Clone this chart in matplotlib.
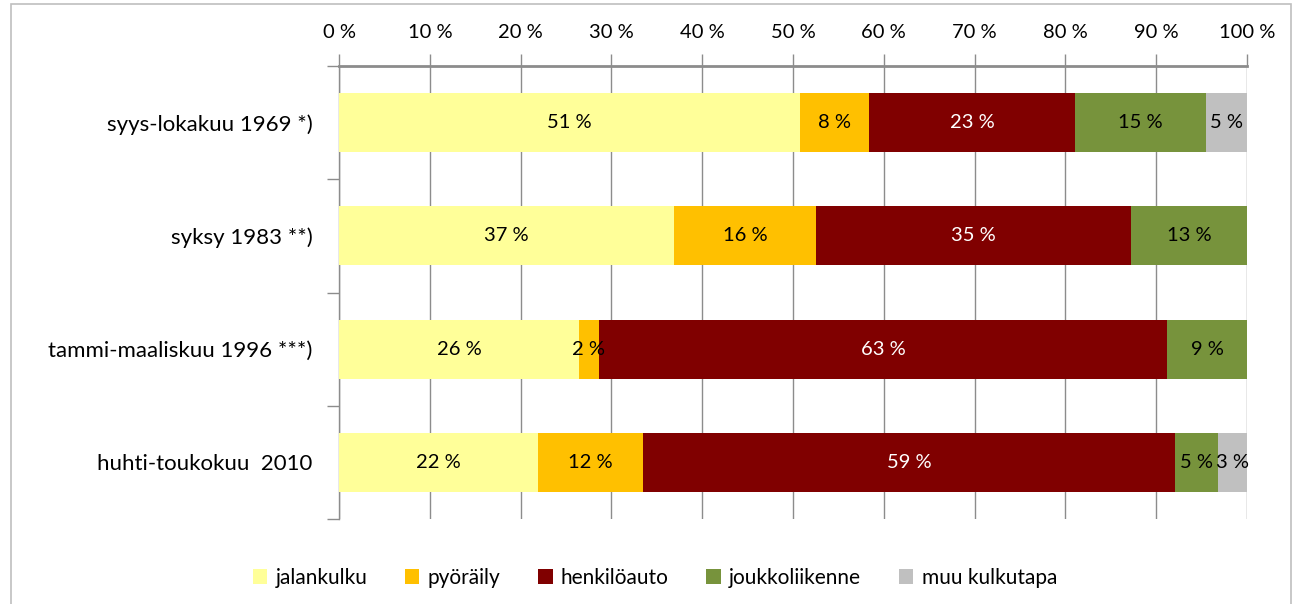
import matplotlib.pyplot as plt
import matplotlib.patches as mpatches
import numpy as np

plt.rcParams['font.family'] = ['Lato', 'DejaVu Sans']

# Data
periods = ['syys-lokakuu 1969 *)', 'syksy 1983 **)', 'tammi-maaliskuu 1996 ***)', 'huhti-toukokuu  2010']
modes = ['jalankulku', 'pyöräily', 'henkilöauto', 'joukkoliikenne', 'muu kulkutapa']
jalankulku = [50.8, 36.9, 26.4, 21.9]
pyoraily = [7.6, 15.6, 2.2, 11.6]
henkiloauto = [22.6, 34.7, 62.6, 58.6]
joukkoliikenne = [14.5, 12.8, 8.8, 4.7]
muu = [4.5, 0.0, 0.0, 3.2]
x_ticks = [0, 10, 20, 30, 40, 50, 60, 70, 80, 90, 100]

series = [jalankulku, pyoraily, henkiloauto, joukkoliikenne, muu]
colors = ['#FFFF99', '#FFC000', '#800000', '#77933C', '#C0C0C0']
text_colors = ['black', 'black', 'white', 'black', 'black']

fig = plt.figure(figsize=(12.94, 6.04), dpi=100)
ax = fig.add_axes([0.262, 0.1407, 0.9637 - 0.262, 0.8907 - 0.1407])

# Light border round the whole chart
fig.patches.append(mpatches.Rectangle((0.0085, -0.02), 0.989, 1.014, transform=fig.transFigure,
                                      fill=False, edgecolor='#BFBFBF', linewidth=1.2))

y = np.arange(len(periods))
left = np.zeros(len(periods))
for vals, name, col, tcol in zip(series, modes, colors, text_colors):
    vals = np.array(vals)
    ax.barh(y, vals, left=left, height=0.52, color=col, label=name, zorder=3)
    for i, v in enumerate(vals):
        if v > 0:
            # round half up like Excel
            ax.text(left[i] + v / 2, y[i], f'{int(v + 0.5)} %', ha='center', va='center',
                    fontsize=14.5, color=tcol, zorder=4)
    left += vals

ax.set_xlim(0, 100)
ax.set_ylim(len(periods) - 0.5, -0.5)

# x-axis on top
ax.xaxis.tick_top()
ax.set_xticks(x_ticks)
ax.set_xticklabels([f'{t} %' for t in x_ticks], fontsize=14.5)
ax.tick_params(axis='x', which='major', length=9, width=1, color='#8C8C8C', pad=9)
ax.grid(axis='x', color='#8C8C8C', linewidth=1, zorder=0)

# y-axis: labels at bar centres, ticks at category boundaries
ax.set_yticks(y)
ax.set_yticklabels(periods, fontsize=16)
ax.tick_params(axis='y', which='major', length=0, pad=19)
ax.set_yticks(np.arange(-0.5, len(periods)), minor=True)
ax.tick_params(axis='y', which='minor', length=9, width=1, color='#8C8C8C')

for s in ['right', 'bottom']:
    ax.spines[s].set_visible(False)
ax.spines['top'].set_color('#8C8C8C')
ax.spines['top'].set_linewidth(2)
ax.spines['left'].set_color('#8C8C8C')
ax.spines['left'].set_linewidth(1)

ax.legend(loc='center', bbox_to_anchor=(0.506, 0.043), bbox_transform=fig.transFigure,
          ncol=5, frameon=False, fontsize=15,
          handlelength=0.7, handleheight=0.7, handletextpad=0.4, columnspacing=1.8)

fig.savefig('out.png', dpi=100)
